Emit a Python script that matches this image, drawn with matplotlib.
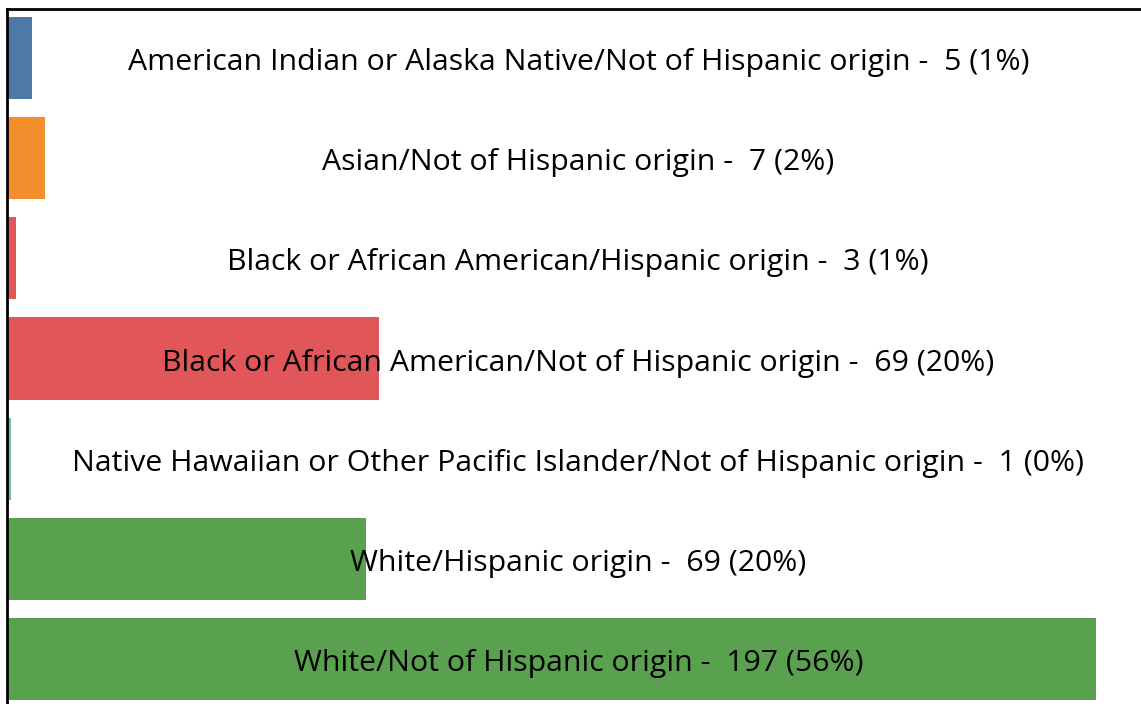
import matplotlib
matplotlib.use("Agg")
import matplotlib.pyplot as plt

categories = [
    "American Indian or Alaska Native/Not of Hispanic origin",
    "Asian/Not of Hispanic origin",
    "Black or African American/Hispanic origin",
    "Black or African American/Not of Hispanic origin",
    "Native Hawaiian or Other Pacific Islander/Not of Hispanic origin",
    "White/Hispanic origin",
    "White/Not of Hispanic origin",
]
counts = [5, 7, 3, 69, 1, 69, 197]
percents = ["1%", "2%", "1%", "20%", "0%", "20%", "56%"]
# bar lengths as drawn in the picture
bar_lengths = [4.7, 7.05, 1.63, 67.3, 0.9, 65.1, 197]
colors = ["#4e79a7", "#f28e2b", "#e15759", "#e15759", "#76b7b2", "#59a14f", "#59a14f"]

W, H = 1141, 704
fig = plt.figure(figsize=(W / 100, H / 100), dpi=100)
left_px, right_px, top_px = 6.5, 1150, 9
ax = fig.add_axes([left_px / W, 0, (right_px - left_px) / W, 1 - top_px / H])

ys = list(range(len(categories)))
ax.barh(ys, bar_lengths, height=0.819, color=colors, zorder=1)
ax.set_ylim(6.449, -0.489)
ax.set_xlim(0, (right_px - left_px) / 5.528)

for y, c, n, p in zip(ys, categories, counts, percents):
    ax.text(0.5, y + 0.045, f"{c} -  {n} ({p})", transform=ax.get_yaxis_transform(),
            ha="center", va="center", fontsize=21.8, family="Open Sans",
            color="#000000", zorder=3)

ax.set_xticks([])
ax.set_yticks([])
for s in ["right", "bottom"]:
    ax.spines[s].set_visible(False)
for s in ["top", "left"]:
    ax.spines[s].set_linewidth(2)
    ax.spines[s].set_color("black")

fig.savefig("out.png", dpi=100)
